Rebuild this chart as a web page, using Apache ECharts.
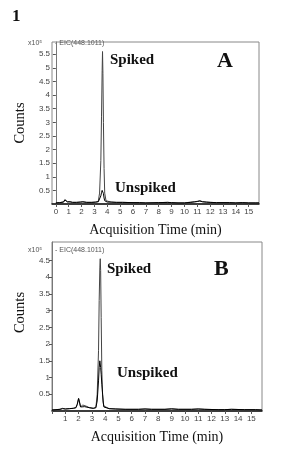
<!DOCTYPE html>
<html>
<head>
<meta charset="utf-8">
<script src="https://cdn.jsdelivr.net/npm/echarts@6/dist/echarts.min.js"></script>
<style>
  html, body { margin: 0; padding: 0; background: #fff; }
  #chart { width: 300px; height: 458px; }
</style>
</head>
<body>
<div id="chart"></div>
<script>
// panel A
const timeA = [0, 0.3, 0.6, 0.7, 0.8, 0.9, 1.0, 1.1, 1.3, 1.6, 1.9, 2.0, 2.1, 2.4, 2.8, 3.1, 3.3, 3.4, 3.5, 3.55, 3.6, 3.63, 3.66, 3.7, 3.75, 3.8, 3.9, 4.0, 4.3, 4.7, 5.2, 6, 6.5, 7, 8, 8.7, 9, 9.5, 10, 10.5, 10.8, 11, 11.2, 11.4, 11.7, 12, 12.5, 13, 13.5, 14, 14.5, 15, 15.5, 15.8];
const spikedA = [0.04, 0.05, 0.08, 0.16, 0.1, 0.08, 0.12, 0.08, 0.06, 0.06, 0.07, 0.11, 0.08, 0.06, 0.06, 0.07, 0.1, 0.4, 1.6, 3.2, 4.9, 5.6, 4.8, 3.0, 1.3, 0.4, 0.12, 0.08, 0.07, 0.06, 0.06, 0.05, 0.05, 0.04, 0.05, 0.06, 0.05, 0.04, 0.04, 0.07, 0.08, 0.1, 0.12, 0.09, 0.07, 0.06, 0.05, 0.05, 0.05, 0.04, 0.05, 0.04, 0.04, 0.04];
const unspikedA = [0.04, 0.05, 0.07, 0.15, 0.1, 0.08, 0.11, 0.08, 0.06, 0.06, 0.07, 0.1, 0.08, 0.06, 0.06, 0.07, 0.08, 0.12, 0.3, 0.42, 0.5, 0.52, 0.48, 0.38, 0.22, 0.12, 0.08, 0.07, 0.07, 0.06, 0.06, 0.05, 0.05, 0.04, 0.05, 0.06, 0.05, 0.04, 0.04, 0.06, 0.08, 0.09, 0.11, 0.08, 0.07, 0.06, 0.05, 0.05, 0.05, 0.04, 0.05, 0.04, 0.04, 0.04];

// panel B
const timeB = [0, 0.3, 0.6, 0.8, 1.0, 1.3, 1.6, 1.8, 1.9, 2.0, 2.05, 2.15, 2.3, 2.45, 2.6, 2.8, 2.95, 3.1, 3.3, 3.4, 3.5, 3.55, 3.6, 3.63, 3.66, 3.7, 3.75, 3.8, 3.85, 3.9, 4.0, 4.3, 4.8, 5.5, 6.5, 7, 7.5, 8.5, 9, 9.5, 10.5, 11, 11.5, 12.5, 13, 13.5, 14.5, 15.3, 15.8];
const spikedB = [0.03, 0.04, 0.05, 0.08, 0.06, 0.07, 0.08, 0.1, 0.2, 0.38, 0.3, 0.12, 0.18, 0.13, 0.14, 0.1, 0.15, 0.08, 0.1, 0.5, 1.8, 3.3, 4.3, 4.55, 4.2, 2.8, 1.2, 0.5, 0.25, 0.15, 0.1, 0.07, 0.06, 0.05, 0.05, 0.06, 0.05, 0.05, 0.07, 0.05, 0.05, 0.06, 0.05, 0.04, 0.04, 0.05, 0.04, 0.04, 0.03];
const unspikedB = [0.03, 0.04, 0.05, 0.07, 0.06, 0.07, 0.08, 0.1, 0.2, 0.37, 0.3, 0.12, 0.17, 0.13, 0.14, 0.1, 0.14, 0.08, 0.1, 0.3, 0.9, 1.3, 1.5, 1.5, 1.3, 1.1, 0.8, 0.85, 0.3, 0.12, 0.08, 0.07, 0.06, 0.05, 0.05, 0.06, 0.05, 0.05, 0.06, 0.05, 0.05, 0.06, 0.05, 0.04, 0.04, 0.05, 0.04, 0.04, 0.03];

const xTicksA = [0, 1, 2, 3, 4, 5, 6, 7, 8, 9, 10, 11, 12, 13, 14, 15];
const xTicksB = [1, 2, 3, 4, 5, 6, 7, 8, 9, 10, 11, 12, 13, 14, 15];
const yTicksA = [0.5, 1, 1.5, 2, 2.5, 3, 3.5, 4, 4.5, 5, 5.5];
const yTicksB = [0.5, 1, 1.5, 2, 2.5, 3, 3.5, 4, 4.5];

const zip = (xs, ys) => xs.map((x, i) => [x, ys[i]]);

const serif = 'Liberation Serif';
const sans = 'Liberation Sans';

const xAxisOf = (gridIndex, min, ticks, tickAll) => ({
  type: 'value', gridIndex, min, max: 15.8,
  name: 'Acquisition Time (min)', nameLocation: 'middle', nameGap: 19,
  nameTextStyle: { fontFamily: serif, fontSize: 14, color: '#111' },
  axisLine: { lineStyle: { color: '#111', width: 1.5 } },
  axisTick: { length: 3, lineStyle: { color: '#555' }, customValues: tickAll },
  axisLabel: { fontFamily: sans, fontSize: 8, color: '#444', margin: 4, customValues: ticks },
  splitLine: { show: false }
});

const yAxisOf = (gridIndex, max, ticks, namePad) => ({
  type: 'value', gridIndex, min: 0, max,
  name: 'Counts', nameLocation: 'middle', nameGap: 24,
  nameTextStyle: { fontFamily: serif, fontSize: 14.5, color: '#111', padding: namePad },
  axisLine: { lineStyle: { color: '#777', width: 1 } },
  axisTick: { length: 3, lineStyle: { color: '#555' }, customValues: ticks },
  axisLabel: { fontFamily: sans, fontSize: 8, color: '#444', margin: 2, customValues: ticks },
  splitLine: { show: false }
});

const lineOf = (idx, data, color) => ({
  type: 'line', xAxisIndex: idx, yAxisIndex: idx, data, showSymbol: false,
  lineStyle: { color, width: 1 }, silent: true
});

const label = (text, left, top, size, bold) => ({
  type: 'text', left, top,
  style: { text, fontFamily: serif, fontSize: size, fontWeight: bold ? 'bold' : 'normal', fill: '#111' }
});

const small = (text, left, top) => ({
  type: 'text', left, top,
  style: { text, fontFamily: sans, fontSize: 7, fill: '#555' }
});

const chart = echarts.init(document.getElementById('chart'));
chart.setOption({
  animation: false,
  grid: [
    { left: 52, top: 42, width: 207, height: 162, show: true, borderColor: '#888', borderWidth: 1 },
    { left: 52, top: 242, width: 210, height: 169, show: true, borderColor: '#888', borderWidth: 1 }
  ],
  xAxis: [xAxisOf(0, -0.3, xTicksA, xTicksA), xAxisOf(1, 0, xTicksB, [0].concat(xTicksB))],
  yAxis: [yAxisOf(0, 5.95, yTicksA, 0), yAxisOf(1, 5.05, yTicksB, [0, 0, 0, 28])],
  series: [
    lineOf(0, zip(timeA, spikedA), '#444'),
    lineOf(0, zip(timeA, unspikedA), '#000'),
    lineOf(1, zip(timeB, spikedB), '#444'),
    lineOf(1, zip(timeB, unspikedB), '#000')
  ],
  graphic: [
    label('1', 12, 8, 17, true),
    small('x10\u2075', 28, 40),
    small('- EIC(448.1011)', 55, 40),
    label('Spiked', 110, 53, 15, true),
    label('A', 217, 50, 22, true),
    label('Unspiked', 115, 181, 15, true),
    small('x10\u2075', 28, 247),
    small('- EIC(448.1011)', 55, 247),
    label('Spiked', 107, 262, 15, true),
    label('B', 214, 258, 22, true),
    label('Unspiked', 117, 366, 15, true)
  ]
});
</script>
</body>
</html>
